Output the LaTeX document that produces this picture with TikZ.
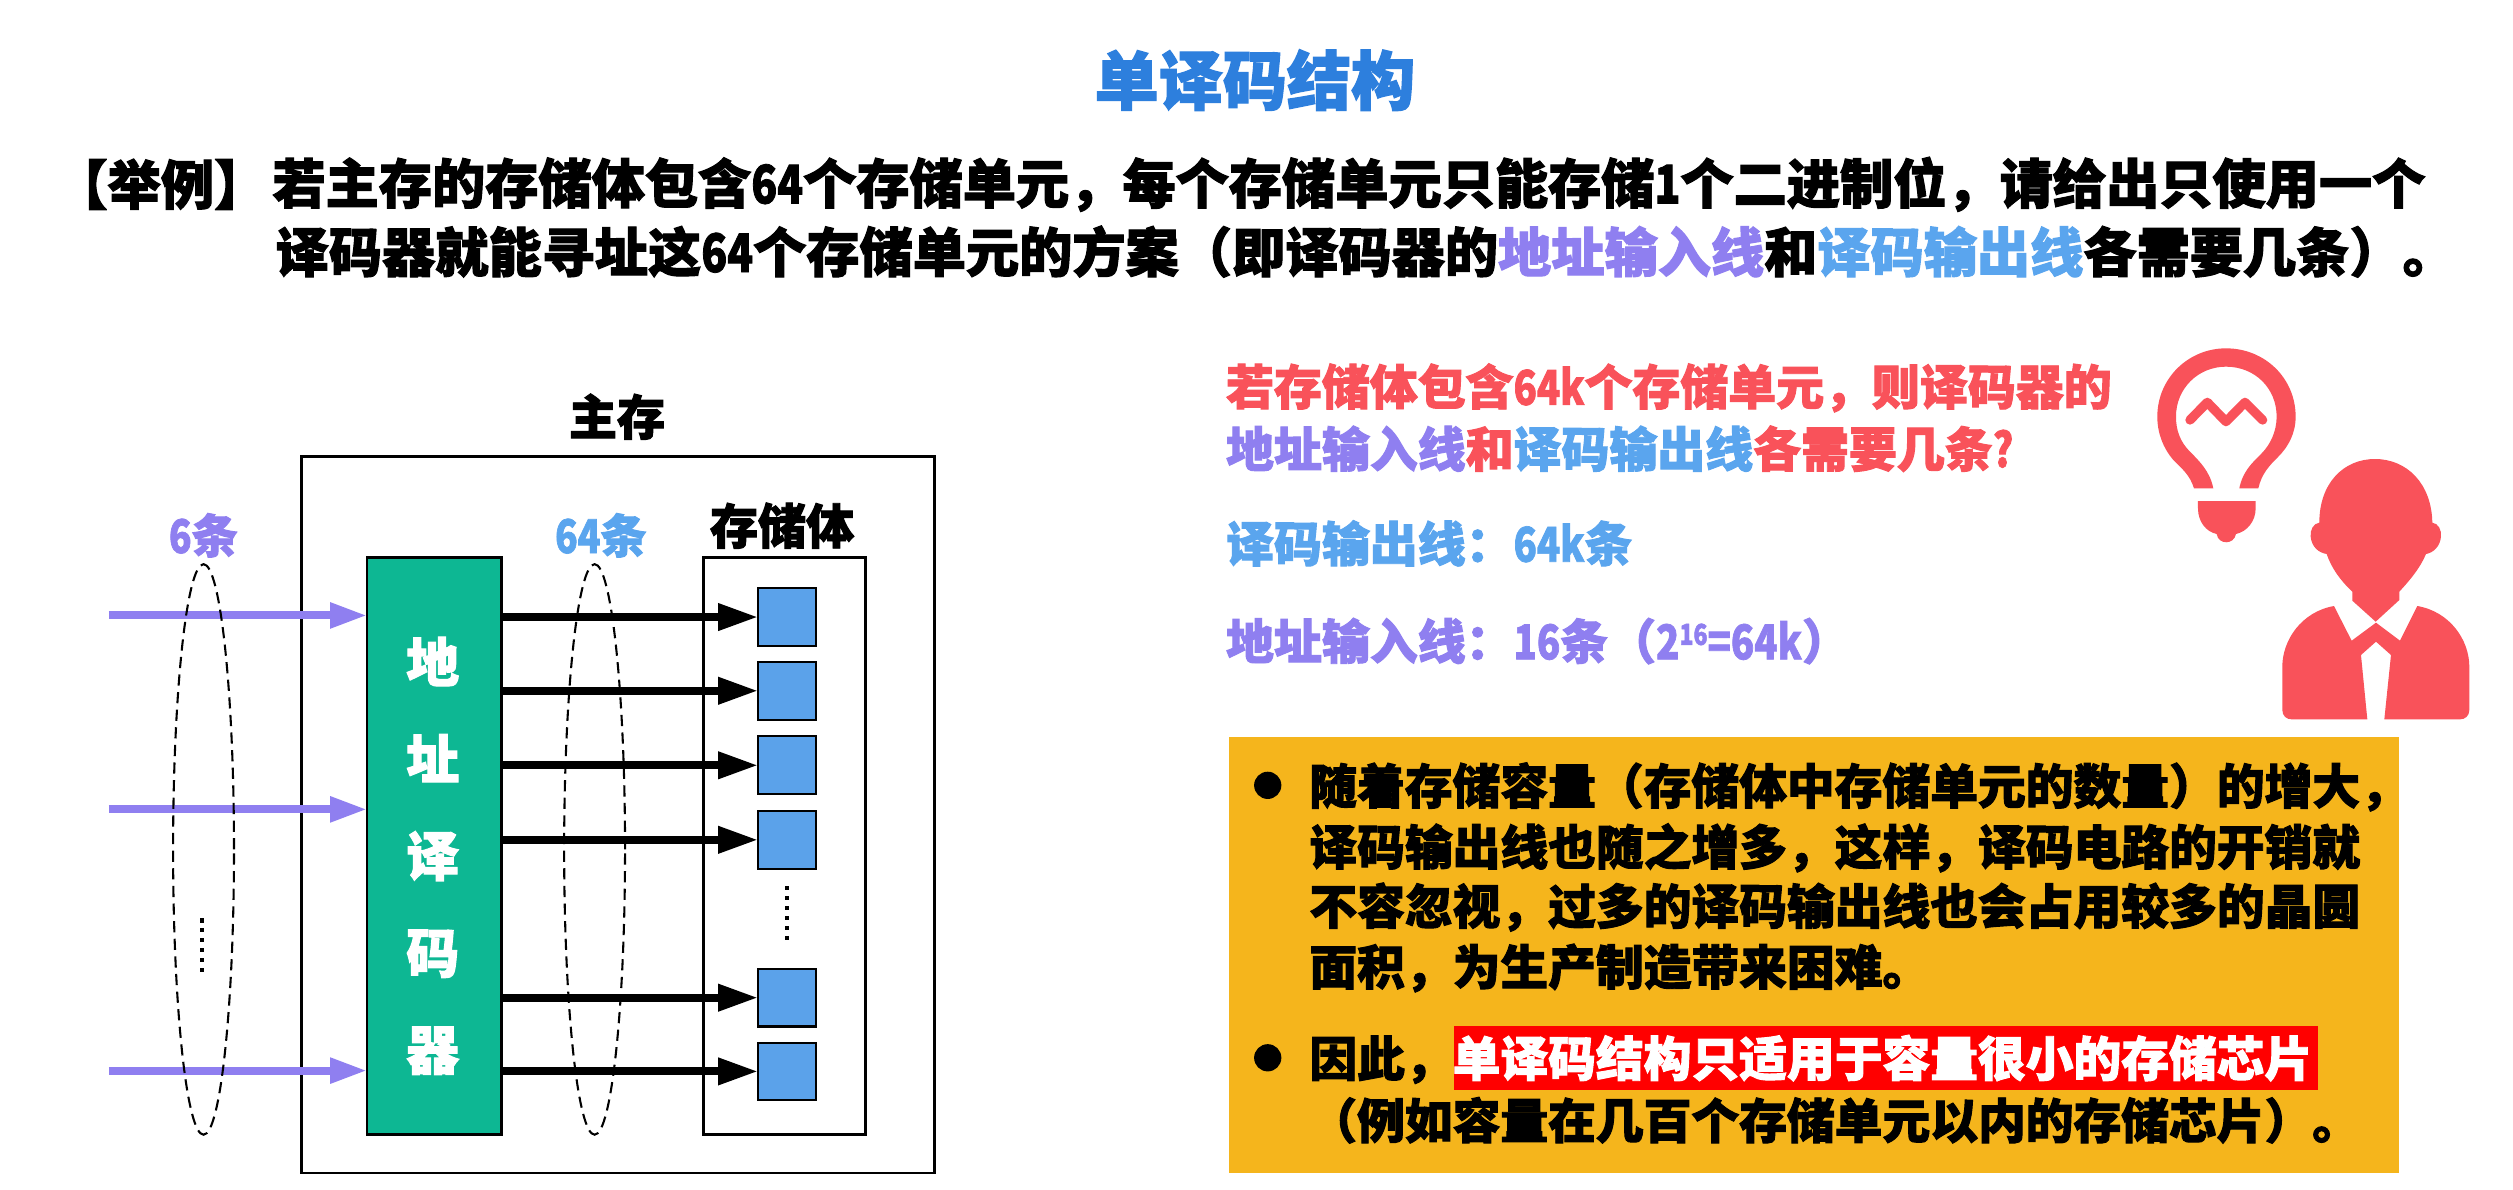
\documentclass[tikz,border=0pt]{standalone}
\usepackage{fontspec}
\usetikzlibrary{arrows.meta,shapes.geometric,calc}
\setmainfont[BoldFeatures={FakeBold=2}]{Noto Sans CJK SC}
\newfontfamily\latn[BoldFeatures={FakeBold=1.5,FakeStretch=0.8}]{Noto Sans CJK SC}
\newcommand{\dg}[1]{{\latn\bfseries #1}}
\definecolor{cpurple}{HTML}{8F7FF0}
\definecolor{cblue}{HTML}{5AA5EE}
\definecolor{cred}{HTML}{F9525A}
\definecolor{cgreen}{HTML}{0DB793}
\definecolor{ccell}{HTML}{5BA2EA}
\definecolor{corange}{HTML}{F5B51C}
\definecolor{ctitle}{HTML}{2D7FDD}
\tikzset{
  x=1pt,y=-1pt,
  every node/.style={inner sep=0pt,outer sep=0pt,font=\bfseries},
  txt/.style={anchor=west,font=\fontsize{33.2}{33.2}\selectfont\bfseries},
  lbl/.style={font=\fontsize{29}{29}\selectfont\bfseries},
  side/.style={anchor=west,font=\fontsize{29.9}{29.9}\selectfont\bfseries},
  box/.style={anchor=west,font=\fontsize{29.8}{29.8}\selectfont\bfseries},
  frame/.style={draw=black,line width=1.6pt,fill=white,anchor=north west},
  cell/.style={draw=black,line width=1.3pt,fill=ccell,minimum width=36pt,minimum height=36pt},
  inarrow/.style={draw=cpurple,line width=5pt,-{Triangle[length=23pt,width=15pt]}},
  outarrow/.style={draw=black,line width=5pt,-{Triangle[length=25pt,width=16pt]}},
  loop/.style={draw=black,line width=1.3pt,ellipse,minimum width=38pt,minimum height=356pt,dash pattern=on 7pt off 4pt},
  dotcol/.style={draw=black,line width=2.6pt,dash pattern=on 2.6pt off 3.6pt},
}
\begin{document}
\begin{tikzpicture}
\useasboundingbox (0,0) rectangle (1568,742.5);
\fill[white] (0,0) rectangle (1568,742.5);

\node[font=\fontsize{40}{40}\selectfont\bfseries,text=ctitle] (title) at (783,50) {单译码结构};

\node[txt] (q1a) at (34,115) {【举例】};
\node[txt] (q1b) at (170,115) {若主存的存储体包含\dg{64}个存储单元，每个存储单元只能存储\dg{1}个二进制位，请给出只使用一个};
\node[txt] (q2) at (172,157) {译码器就能寻址这\dg{64}个存储单元的方案（即译码器的\textcolor{cpurple}{地址输入线}和\textcolor{cblue}{译码输出线}各需要几条）。};

% memory
\node[frame,minimum width=395pt,minimum height=447pt] (mem) at (188,285) {};
\node[lbl,font=\fontsize{30}{30}\selectfont\bfseries] (memt) at (385,260) {主存};
\node[frame,minimum width=101pt,minimum height=360pt] (store) at (439,348) {};
\node[lbl,font=\fontsize{30}{30}\selectfont\bfseries] (storet) at (488,328) {存储体};
\node[frame,fill=cgreen,minimum width=84pt,minimum height=360pt] (dec) at (229,348) {};
\node[text=white,align=center,font=\fontsize{33}{60.5}\selectfont\bfseries] (dect) at (270,534) {地\\址\\译\\码\\器};

\node[cell] (c1) at (491,385) {};
\node[cell] (c2) at (491,431) {};
\node[cell] (c3) at (491,477.5) {};
\node[cell] (c4) at (491,524) {};
\node[cell] (c5) at (491,622.5) {};
\node[cell] (c6) at (491,668.5) {};

\coordinate (i1) at (68,384);
\coordinate (i2) at (68,505);
\coordinate (i3) at (68,668);
\draw[inarrow] (i1) -- (i1 -| dec.west);
\draw[inarrow] (i2) -- (i2 -| dec.west);
\draw[inarrow] (i3) -- (i3 -| dec.west);
\foreach \k in {1,...,6}{
  \draw[outarrow] (c\k.west -| dec.east) -- (c\k.west);
}
\node[loop] (e1) at (127,530) {};
\node[loop] (e2) at (371,530) {};
\node[lbl,text=cpurple] (l6) at (127,334) {\dg{6}条};
\node[lbl,text=cblue] (l64) at (375,334) {\dg{64}条};
\coordinate (d1a) at (126,573); \coordinate (d1b) at (126,608);
\coordinate (d2a) at (491,553); \coordinate (d2b) at (491,590);
\draw[dotcol] (d1a) -- (d1b);
\draw[dotcol] (d2a) -- (d2b);

% right text
\node[side,text=cred] (r1) at (765,242) {若存储体包含\dg{64k}个存储单元，则译码器的};
\node[side,text=cred] (r2) at (765,280) {\textcolor{cpurple}{地址输入线}和\textcolor{cblue}{译码输出线}各需要几条\dg{?}};
\node[side,text=cblue] (r3) at (765,339) {译码输出线：\dg{64k}条};
\node[side,text=cpurple] (r4) at (765,400) {地址输入线：\dg{16}条（\dg{2}\raisebox{9pt}{\fontsize{18}{18}\selectfont\dg{16}}\dg{=64k}）};

% bulb and person, drawn in the coordinates of a 3x crop
\begin{scope}[shift={(1329,205.9)},x=0.208pt,y=-0.208pt]
\fill[cred] (192,475) .. controls (180,435) and (155,415) .. (130,390)
  .. controls (100,355) and (82,310) .. (82,260)
  .. controls (82,145) and (175,55) .. (288,55)
  .. controls (405,55) and (497,145) .. (497,260)
  .. controls (497,310) and (475,350) .. (445,380)
  .. controls (420,405) and (395,430) .. (385,475)
  -- (328,475) .. controls (338,425) and (365,400) .. (395,370)
  .. controls (420,345) and (440,305) .. (440,260)
  .. controls (440,175) and (375,110) .. (288,110)
  .. controls (205,110) and (138,175) .. (138,260)
  .. controls (138,300) and (150,335) .. (180,365)
  .. controls (210,395) and (240,425) .. (250,475) -- cycle;
\fill[cred] (204,513) -- (377,513) -- (377,535)
  .. controls (377,575) and (350,605) .. (318,612)
  .. controls (312,645) and (265,645) .. (260,612)
  .. controls (228,605) and (204,575) .. (204,535) -- cycle;
\draw[cred,line width=5.8pt,line cap=round,line join=round] (180,270) -- (232,217) -- (288,275) -- (345,217) -- (398,270);
\fill[cred] (735,387) .. controls (830,387) and (905,460) .. (907,578)
  .. controls (925,580) and (935,600) .. (933,620)
  .. controls (930,650) and (910,668) .. (888,672)
  .. controls (870,715) and (840,750) .. (808,785)
  -- (808,810) -- (737,875) -- (667,812) -- (667,785)
  .. controls (630,750) and (605,715) .. (590,672)
  .. controls (565,668) and (545,650) .. (542,620)
  .. controls (540,600) and (550,580) .. (568,578)
  .. controls (568,460) and (640,387) .. (735,387) -- cycle;
\fill[cred] (612,828) -- (665,932) -- (738,878) -- (810,932) -- (862,828)
  .. controls (960,845) and (1018,930) .. (1018,1010)
  -- (1018,1140) .. controls (1018,1158) and (1005,1168) .. (990,1168)
  -- (763,1168) -- (783,975) -- (738,935) -- (693,975) -- (712,1168) -- (485,1168)
  .. controls (470,1168) and (457,1158) .. (457,1140)
  -- (457,1010) .. controls (457,930) and (515,845) .. (612,828) -- cycle;
\end{scope}

% note
\fill[corange] (767,460) rectangle (1497,732);
\node[fill=red,minimum width=539pt,minimum height=40pt,anchor=west] (hl) at (907,660) {};
\node[circle,fill=black,minimum size=17pt] (b1) at (791,490) {};
\node[circle,fill=black,minimum size=17pt] (b2) at (791,660) {};
\node[box] (n1) at (817,491) {随着存储容量（存储体中存储单元的数量）的增大，};
\node[box] (n2) at (817,529) {译码输出线也随之增多，这样，译码电路的开销就};
\node[box] (n3) at (817,566) {不容忽视，过多的译码输出线也会占用较多的晶圆};
\node[box] (n4) at (817,604) {面积，为生产制造带来困难。};
\node[box] (n5) at (817,661) {因此，\textcolor{white}{单译码结构只适用于容量很小的存储芯片}};
\node[box] (n6) at (817,699) {（例如容量在几百个存储单元以内的存储芯片）。};
\end{tikzpicture}
\end{document}
